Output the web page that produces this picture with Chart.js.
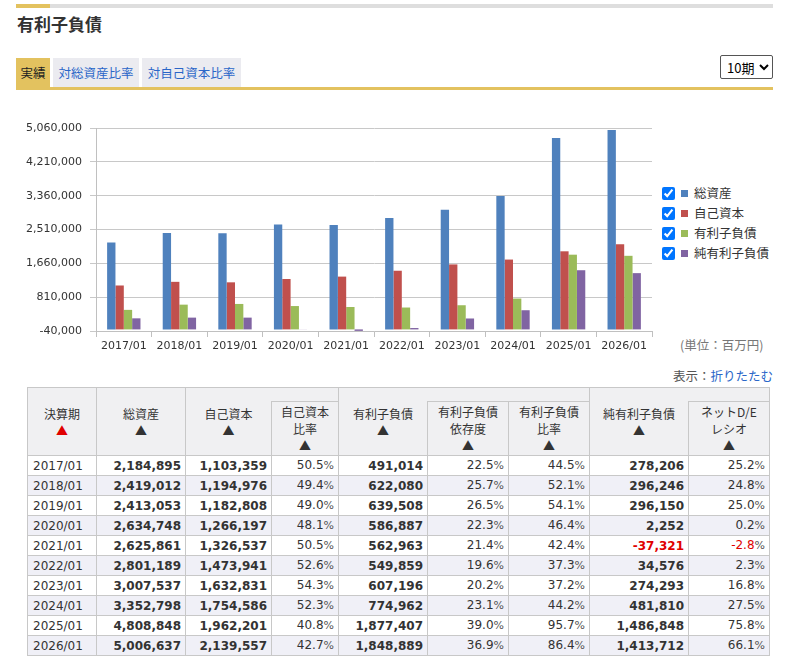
<!DOCTYPE html>
<html><head><meta charset="utf-8">
<script src="https://cdn.jsdelivr.net/npm/chart.js@4"></script>
<style>
html,body{margin:0;padding:0;background:#fff;}
body{width:785px;height:662px;position:relative;overflow:hidden;font-family:"DejaVu Sans","Noto Sans CJK JP",sans-serif;color:#333;}
.topbar{position:absolute;left:16px;top:4px;width:757px;height:4px;background:#dedede;}
.topbar i{position:absolute;left:0;top:0;width:34px;height:4px;background:#e3c25f;}
.title{position:absolute;left:17px;top:11px;font-family:"Noto Sans CJK JP",sans-serif;font-weight:bold;font-size:17px;color:#333;}
.tab{position:absolute;top:58px;height:29px;line-height:29px;font-family:"Noto Sans CJK JP",sans-serif;font-size:12.5px;text-align:center;background:#ebebf0;color:#2a66c8;}
.tabline{position:absolute;left:16px;top:87px;width:757px;height:3px;background:#e3c25f;}
select{position:absolute;left:720px;top:55px;width:53px;height:24px;font-family:"Noto Sans CJK JP",sans-serif;font-size:13px;border:1px solid #555;border-radius:2px;background:#fff;color:#000;padding:0 0 0 2px;}
#cwrap{position:absolute;left:0;top:101px;width:660px;height:270px;}
.legend{position:absolute;left:661px;top:183px;font-family:"Noto Sans CJK JP",sans-serif;font-size:12.5px;color:#333;}
.legend div{height:20px;line-height:18px;display:flex;align-items:center;}
.legend input{margin:0 6px 0 1px;width:13px;height:13px;accent-color:#0075ff;}
.legend span.sw{display:inline-block;width:7px;height:7px;margin-right:6px;}
.unit{position:absolute;left:680px;top:335px;font-family:"Noto Sans CJK JP",sans-serif;font-size:12.5px;color:#777;}
.disp{position:absolute;left:673px;top:366px;font-family:"Noto Sans CJK JP",sans-serif;font-size:12.5px;color:#555;}
.disp a{color:#2a66c8;text-decoration:none;}
table{position:absolute;left:27px;top:387px;border-collapse:collapse;table-layout:fixed;width:742px;font-size:12px;}
th,td{border:1px solid #c8c8c8;padding:0 4px;}
th{background:#f0f0f2;font-weight:normal;font-family:"Noto Sans CJK JP",sans-serif;font-size:12px;line-height:17px;color:#333;vertical-align:middle;text-align:center;}
tr.h1 th.e{height:13px;border-left:none;}
th.nr{border-right:none;}
td{height:18.7px;line-height:18px;text-align:right;white-space:nowrap;}
td.d{text-align:left;padding-left:5px;}
td.b{font-weight:bold;}
td .p{font-size:11px;color:#555;}
tbody tr:nth-child(even) td{background:#f0f0f7;}
.red{color:#e00000;}
.neg{color:#e00000;}
</style></head>
<body>
<div class="topbar"><i></i></div>
<div class="title">有利子負債</div>
<div class="tab" style="left:16px;width:34px;background:#e3c25f;color:#222;">実績</div>
<div class="tab" style="left:53px;width:86px;">対総資産比率</div>
<div class="tab" style="left:142px;width:99px;">対自己資本比率</div>
<div class="tabline"></div>
<select><option>10期</option></select>
<div id="cwrap"><canvas id="c" width="660" height="270"></canvas></div>
<div class="legend" id="legend"></div>
<div class="unit">(単位：百万円)</div>
<div class="disp">表示：<a>折りたたむ</a></div>
<table id="tbl">
<colgroup><col style="width:69px"><col style="width:89px"><col style="width:86px"><col style="width:67px"><col style="width:89px"><col style="width:81px"><col style="width:81px"><col style="width:99px"><col style="width:81px"></colgroup>
<thead>
<tr class="h1">
<th rowspan="2">決算期<br><span class="red">▲</span></th>
<th rowspan="2">総資産<br>▲</th>
<th rowspan="2" class="nr">自己資本<br>▲</th>
<th class="e"></th>
<th rowspan="2" class="nr">有利子負債<br>▲</th>
<th class="e" colspan="2"></th>
<th rowspan="2" class="nr">純有利子負債<br>▲</th>
<th class="e"></th>
</tr>
<tr style="height:54px">
<th>自己資本<br>比率<br>▲</th>
<th>有利子負債<br>依存度<br>▲</th>
<th>有利子負債<br>比率<br>▲</th>
<th>ネットD/E<br>レシオ<br>▲</th>
</tr>
</thead>
<tbody id="tb"></tbody>
</table>
<script>
const periods = ["2017/01","2018/01","2019/01","2020/01","2021/01","2022/01","2023/01","2024/01","2025/01","2026/01"];
const totalAssets = [2184895,2419012,2413053,2634748,2625861,2801189,3007537,3352798,4808848,5006637];
const equity = [1103359,1194976,1182808,1266197,1326537,1473941,1632831,1754586,1962201,2139557];
const equityRatio = [50.5,49.4,49.0,48.1,50.5,52.6,54.3,52.3,40.8,42.7];
const debt = [491014,622080,639508,586887,562963,549859,607196,774962,1877407,1848889];
const debtDependence = [22.5,25.7,26.5,22.3,21.4,19.6,20.2,23.1,39.0,36.9];
const debtRatio = [44.5,52.1,54.1,46.4,42.4,37.3,37.2,44.2,95.7,86.4];
const netDebt = [278206,296246,296150,2252,-37321,34576,274293,481810,1486848,1413712];
const netDE = [25.2,24.8,25.0,0.2,-2.8,2.3,16.8,27.5,75.8,66.1];
const yTicks = [-40000,810000,1660000,2510000,3360000,4210000,5060000];
const seriesNames = ["総資産","自己資本","有利子負債","純有利子負債"];
const seriesColors = ["#4f81bd","#c0504d","#9bbb59","#8064a2"];

const fmt = v => v.toLocaleString('en-US');
const seriesData = [totalAssets, equity, debt, netDebt];

const chart = new Chart(document.getElementById('c'), {
  type: 'bar',
  data: {
    labels: periods,
    datasets: seriesData.map((d,i)=>({label:seriesNames[i],data:d,backgroundColor:seriesColors[i],borderWidth:0,categoryPercentage:0.6,barPercentage:1.0}))
  },
  options: {
    responsive:false, animation:false,
    layout:{padding:{left:0,right:8,top:27,bottom:10}},
    plugins:{legend:{display:false},tooltip:{enabled:false}},
    scales:{
      x:{
        grid:{drawOnChartArea:false,drawTicks:true,tickLength:6,offset:true,color:'#c0c0c0'},
        border:{color:'#c0c0c0'},
        ticks:{font:{family:'DejaVu Sans',size:11},color:'#333',padding:3,maxRotation:0,autoSkip:false},
        afterFit:s=>{s.height=30;}
      },
      y:{
        min:yTicks[0], max:yTicks[yTicks.length-1],
        afterBuildTicks:s=>{s.ticks=yTicks.map(v=>({value:v}));},
        grid:{color:'#c8c8c8',tickLength:6},
        border:{color:'#c0c0c0'},
        ticks:{font:{family:'DejaVu Sans',size:11},color:'#333',padding:8,callback:v=>fmt(v)},
        afterFit:s=>{s.width=96;}
      }
    }
  }
});

const lg = document.getElementById('legend');
seriesNames.forEach((n,i)=>{
  const d=document.createElement('div');
  d.innerHTML='<input type="checkbox" checked><span class="sw" style="background:'+seriesColors[i]+'"></span>'+n;
  lg.appendChild(d);
});

const tb = document.getElementById('tb');
const pct = v => v.toFixed(1)+'<span class="p">%</span>';
periods.forEach((p,i)=>{
  const tr=document.createElement('tr');
  const neg = netDebt[i]<0;
  tr.innerHTML='<td class="d">'+p+'</td>'+
    '<td class="b">'+fmt(totalAssets[i])+'</td>'+
    '<td class="b">'+fmt(equity[i])+'</td>'+
    '<td>'+pct(equityRatio[i])+'</td>'+
    '<td class="b">'+fmt(debt[i])+'</td>'+
    '<td>'+pct(debtDependence[i])+'</td>'+
    '<td>'+pct(debtRatio[i])+'</td>'+
    '<td class="b'+(neg?' neg':'')+'">'+fmt(netDebt[i])+'</td>'+
    '<td'+(netDE[i]<0?' class="neg"':'')+'>'+pct(netDE[i])+'</td>';
  tb.appendChild(tr);
});
</script>
</body></html>
